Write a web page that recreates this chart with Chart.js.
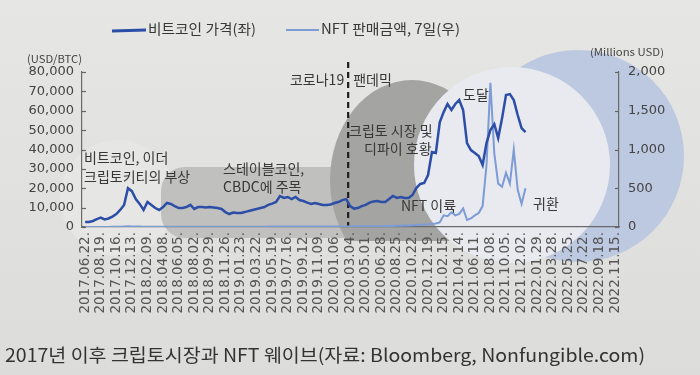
<!DOCTYPE html>
<html>
<head>
<meta charset="utf-8">
<script src="https://cdn.jsdelivr.net/npm/chart.js@4.4.1/dist/chart.umd.min.js"></script>
<style>
  html, body { margin: 0; padding: 0; background: #e2e2e0; }
  canvas { display: block; }
</style>
</head>
<body>
<canvas id="chart" width="700" height="375"></canvas>
<script>
// tick labels, one every 4 sub-steps (about 2 weeks each)
const tickLabels = [
  '2017.06.22.', '2017.08.19.', '2017.10.16.', '2017.12.13.', '2018.02.09.', '2018.04.08.',
  '2018.06.05.', '2018.08.02.', '2018.09.29.', '2018.11.26.', '2019.01.23.', '2019.03.22.',
  '2019.05.19.', '2019.07.16.', '2019.09.12.', '2019.11.09.', '2020.01.06.', '2020.03.04.',
  '2020.05.01.', '2020.06.28.', '2020.08.25.', '2020.10.22.', '2020.12.19.', '2021.02.15.',
  '2021.04.14.', '2021.06.11.', '2021.08.08.', '2021.10.05.', '2021.12.02.', '2022.01.29.',
  '2022.03.28.', '2022.05.25.', '2022.07.22.', '2022.09.18.', '2022.11.15.'
];
const subSteps = 4;

// bitcoin price, USD/BTC (left axis)
const btcPrice = [
  2600, 2600, 3100, 4100, 4900, 3900, 4400, 5400, 6700, 8800,
  11400, 20000, 18500, 14400, 11900, 8800, 12900, 11400, 9800, 8800,
  10300, 12400, 11900, 10800, 9800, 9800, 10300, 11400, 9300, 10300,
  10300, 10100, 10300, 10100, 9800, 9300, 7700, 6700, 7500, 7200,
  7200, 7700, 8300, 8800, 9300, 9800, 10300, 11400, 12100, 12900,
  16000, 15000, 15500, 14400, 15500, 13900, 13400, 12600, 11900, 12400,
  11900, 11400, 11400, 11600, 12400, 12900, 13900, 14400, 10800, 9500,
  9800, 10800, 11400, 12600, 13200, 13400, 12900, 12900, 14400, 16000,
  15000, 15500, 15000, 15000, 16500, 20100, 22200, 22700, 26800, 38700,
  38200, 54000, 59300, 63500, 60400, 63500, 65500, 60400, 43300, 39700,
  38200, 36600, 32000, 43300, 50100, 53100, 45900, 56200, 68100, 68600,
  65500, 57800, 51100, 49000
];

// NFT sales, 7 days, millions USD (right axis)
const nftSales = [
  0, 0, 0, 0, 1, 1, 1, 2, 3, 4,
  6, 9, 8, 6, 5, 4, 4, 3, 3, 3,
  3, 3, 3, 3, 2, 2, 3, 3, 3, 3,
  3, 3, 3, 2, 2, 2, 3, 3, 3, 3,
  3, 3, 3, 4, 4, 4, 4, 5, 5, 5,
  5, 5, 6, 6, 6, 6, 6, 6, 6, 7,
  7, 7, 7, 8, 8, 8, 8, 8, 8, 8,
  9, 9, 10, 10, 10, 11, 11, 12, 12, 14,
  15, 16, 18, 20, 22, 25, 28, 30, 35, 40,
  45, 60, 150, 140, 190, 150, 170, 240, 90, 110,
  150, 180, 270, 800, 1860, 950, 560, 520, 700, 560,
  1000, 480, 300, 500
];

const pandemicAt = 67.5; // sub-step where the COVID-19 line sits

const BTC_COLOR = '#2c4ea6';
const NFT_COLOR = '#7d9bd5';
const KR = '"Noto Sans CJK KR", "Noto Sans", sans-serif';
const NUM = '"DejaVu Sans", sans-serif';

let toPoints = arr => arr.map((v, i) => ({ x: i, y: v }));

function txt(c, s, x, y, px, opt) {
  opt = opt || {};
  c.save();
  c.font = (opt.weight || '400') + ' ' + px + 'px ' + (opt.family || KR);
  c.fillStyle = opt.color || '#383838';
  c.textBaseline = 'middle';
  c.textAlign = 'left';
  let w = c.measureText(s).width;
  let sx = opt.w ? opt.w / w : 1;
  let left = x;
  if (opt.align === 'right') left = x - w * sx;
  if (opt.align === 'center') left = x - w * sx / 2;
  c.translate(left, y);
  c.scale(sx, 1);
  c.fillText(s, 0, 0);
  c.restore();
}

function ellipse(c, x, y, rx, ry, color) {
  c.beginPath();
  c.ellipse(x, y, rx, ry, 0, 0, Math.PI * 2);
  c.fillStyle = color;
  c.fill();
}

function roundBox(c, x0, y0, x1, y1, r, color) {
  c.beginPath();
  c.moveTo(x0 + r, y0);
  c.lineTo(x1 - r, y0);
  c.arcTo(x1, y0, x1, y0 + r, r);
  c.lineTo(x1, y1 - r);
  c.arcTo(x1, y1, x1 - r, y1, r);
  c.lineTo(x0 + r, y1);
  c.arcTo(x0, y1, x0, y1 - r, r);
  c.lineTo(x0, y0 + r);
  c.arcTo(x0, y0, x0 + r, y0, r);
  c.closePath();
  c.fillStyle = color;
  c.fill();
}

const decor = {
  id: 'decor',
  beforeDraw(chart) {
    const c = chart.ctx;
    c.save();
    let g = c.createLinearGradient(0, 0, 0, chart.height);
    g.addColorStop(0, '#e6e6e4');
    g.addColorStop(1, '#dcdcda');
    c.fillStyle = g;
    c.fillRect(0, 0, chart.width, chart.height);

    // background bubbles
    ellipse(c, 118, 198, 58, 58, '#e6e6e4');
    roundBox(c, 161, 167, 420, 238, 24, '#c0c0be');
    c.save();
    c.beginPath();
    c.rect(0, 0, chart.width, 241);
    c.clip();
    ellipse(c, 412, 180, 82, 100, '#a4a4a2');
    c.restore();
    ellipse(c, 578, 156, 106, 106, '#bdc9e1');
    ellipse(c, 512, 165, 98, 98, '#e8eaef');
    c.restore();
  },
  beforeDatasetsDraw(chart) {
    const c = chart.ctx;
    const xs = chart.scales.x, yl = chart.scales.yL, yr = chart.scales.yR;
    const area = chart.chartArea;

    // inward tick marks on both value axes
    c.save();
    c.strokeStyle = '#666';
    c.lineWidth = 1.2;
    yl.ticks.forEach(t => {
      let y = Math.round(yl.getPixelForValue(t.value)) + 0.5;
      c.beginPath(); c.moveTo(area.left, y); c.lineTo(area.left + 4, y); c.stroke();
    });
    yr.ticks.forEach(t => {
      let y = Math.round(yr.getPixelForValue(t.value)) + 0.5;
      c.beginPath(); c.moveTo(area.right, y); c.lineTo(area.right - 4, y); c.stroke();
    });

    // pandemic marker
    let px = xs.getPixelForValue(pandemicAt);
    c.strokeStyle = '#1e1e1e';
    c.lineWidth = 2.2;
    c.setLineDash([6, 4]);
    c.beginPath(); c.moveTo(px, 62); c.lineTo(px, area.bottom); c.stroke();
    c.restore();

    // annotations
    txt(c, '비트코인, 이더', 84, 158, 14);
    txt(c, '크립토키티의 부상', 84, 177, 14);
    txt(c, '스테이블코인,', 223, 169, 14);
    txt(c, 'CBDC에 주목', 223, 187, 14);
    txt(c, '코로나19', px - 4, 80, 14, { align: 'right' });
    txt(c, '팬데믹', px + 5, 80, 14);
    txt(c, '크립토 시장 및', 349, 131, 14);
    txt(c, '디파이 호황', 364, 149, 14);
    txt(c, '도달', 463, 95, 14);
    txt(c, 'NFT 이륙', 401, 206, 14);
    txt(c, '귀환', 533, 204, 14);
  },
  afterDraw(chart) {
    const c = chart.ctx;
    // legend
    c.save();
    c.lineWidth = 3;
    c.strokeStyle = BTC_COLOR;
    c.beginPath(); c.moveTo(112, 31); c.lineTo(146, 30); c.stroke();
    c.lineWidth = 2;
    c.strokeStyle = NFT_COLOR;
    c.beginPath(); c.moveTo(286, 30); c.lineTo(319, 30); c.stroke();
    c.restore();
    txt(c, chart.data.datasets[0].label, 148, 29, 14, { w: 108 });
    txt(c, chart.data.datasets[1].label, 321, 29, 14, { w: 139 });

    // axis units
    txt(c, '(USD/BTC)', 27, 59, 11, { w: 55, color: '#444' });
    txt(c, '(Millions USD)', 590, 52, 10, { w: 74, color: '#444' });

    // caption
    txt(c, '2017년 이후 크립토시장과 NFT 웨이브(자료: Bloomberg, Nonfungible.com)', 5, 355, 18, { w: 640, color: '#333' });
  }
};

const axisColor = '#6a6a6a';

let chart = new Chart(document.getElementById('chart'), {
  type: 'line',
  data: {
    datasets: [{
      label: '비트코인 가격(좌)',
      data: toPoints(btcPrice),
      yAxisID: 'yL',
      borderColor: BTC_COLOR,
      borderWidth: 2.5,
      pointRadius: 0,
      tension: 0,
      order: 1
    }, {
      label: 'NFT 판매금액, 7일(우)',
      data: toPoints(nftSales),
      yAxisID: 'yR',
      borderColor: NFT_COLOR,
      borderWidth: 2,
      pointRadius: 0,
      tension: 0,
      order: 2
    }]
  },
  options: {
    responsive: false,
    animation: false,
    layout: { padding: { top: 72, left: 0, right: 0, bottom: 0 } },
    plugins: { legend: { display: false }, tooltip: { enabled: false } },
    scales: {
      x: {
        type: 'linear',
        min: -0.8,
        max: (tickLabels.length - 1) * subSteps + 1,
        afterBuildTicks: s => { s.ticks = tickLabels.map((_, i) => ({ value: i * subSteps })); },
        afterFit: s => { s.height = 148; },
        grid: { drawOnChartArea: false, drawTicks: false },
        border: { color: axisColor, width: 1.2 },
        ticks: {
          autoSkip: false,
          minRotation: 90,
          maxRotation: 90,
          padding: 5,
          color: '#555',
          font: { family: NUM, size: 13.5 },
          callback: v => tickLabels[v / subSteps]
        }
      },
      yL: {
        position: 'left',
        min: 0,
        max: 80000,
        afterFit: s => { s.width = 82; },
        grid: { drawOnChartArea: false, drawTicks: false },
        border: { color: axisColor, width: 1.2 },
        ticks: {
          stepSize: 10000,
          padding: 8,
          color: '#444',
          font: { family: NUM, size: 13 },
          callback: v => v.toLocaleString('en-US')
        }
      },
      yR: {
        position: 'right',
        min: 0,
        max: 2000,
        afterFit: s => { s.width = 81; },
        grid: { drawOnChartArea: false, drawTicks: false },
        border: { color: axisColor, width: 1.2 },
        ticks: {
          stepSize: 500,
          padding: 9,
          color: '#444',
          font: { family: NUM, size: 13 },
          callback: v => v.toLocaleString('en-US')
        }
      }
    }
  },
  plugins: [decor]
});
</script>
</body>
</html>
